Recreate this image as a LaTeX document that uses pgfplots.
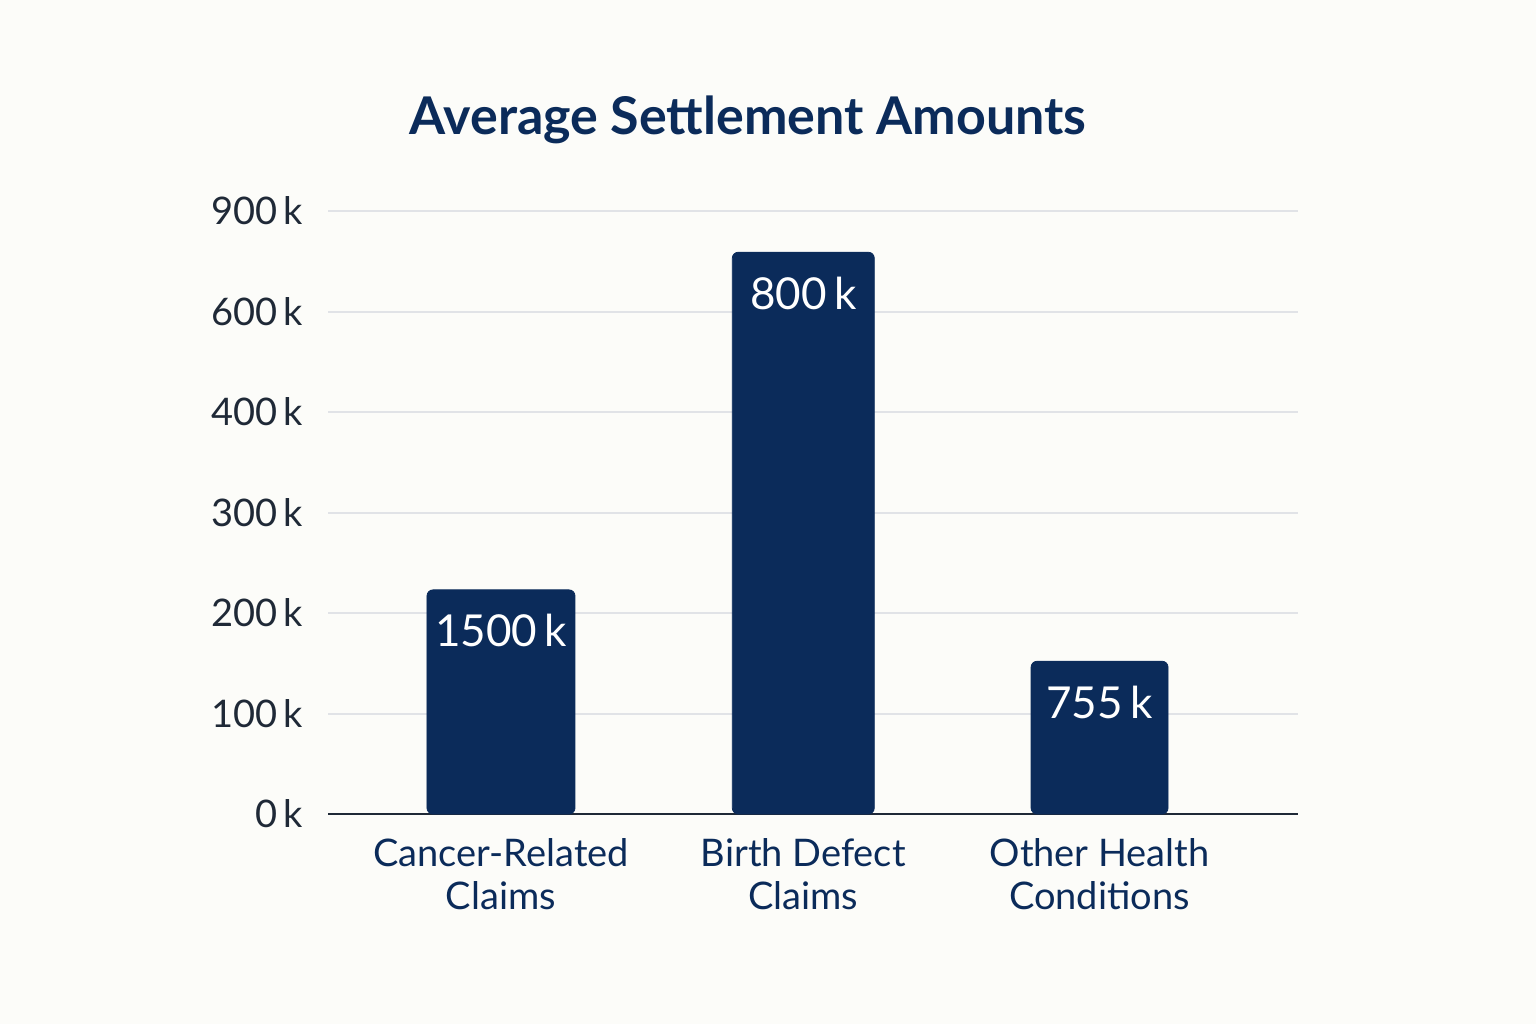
\documentclass[border=0pt]{standalone}
\usepackage{pgfplots}
\pgfplotsset{compat=1.18}
\usepackage{fontspec}
\setmainfont{Lato}
\definecolor{bg}{HTML}{FCFCF9}
\definecolor{navy}{HTML}{0B2B5A}
\definecolor{tickc}{HTML}{1F2937}
\definecolor{gridc}{HTML}{E1E3E7}
\begin{document}
\begin{tikzpicture}[x=1pt,y=1pt]
\fill[bg] (0,0) rectangle (768,512);
\useasboundingbox (0,0) rectangle (768,512);
\node[font=\fontsize{26}{30}\selectfont\bfseries, text=navy] at (374,452) {Average Settlement Amounts};
\begin{axis}[
  at={(164pt,105pt)}, anchor=south west,
  scale only axis, width=485pt, height=301.5pt,
  xmin=-0.578, xmax=2.663, ymin=0, ymax=6,
  axis x line*=bottom, axis y line*=left,
  x axis line style={tickc, line width=1pt, -},
  y axis line style={draw=none},
  ytick={0,1,2,3,4,5,6},
  yticklabels={0\,k,100\,k,200\,k,300\,k,400\,k,600\,k,900\,k},
  ymajorgrids, grid style={gridc, line width=1pt},
  major tick length=0pt,
  xtick={0,1.01,2},
  xticklabels={Cancer-Related\\Claims, Birth Defect\\Claims, Other Health\\Conditions},
  xticklabel style={align=center, font=\fontsize{19}{21.5}\selectfont, text=navy, yshift=-8.5pt},
  yticklabel style={font=\fontsize{19}{22}\selectfont, text=tickc, xshift=-9pt},
  /pgf/number format/assume math mode=true,
  ybar, bar shift=0pt,
  point meta=explicit symbolic,
  nodes near coords,
  every node near coord/.append style={anchor=center, yshift=-20.5pt, text=white, font=\fontsize{22}{24}\selectfont},
  clip=false,
]
\addplot[fill=navy, draw=navy, bar width=74pt, rounded corners=3pt] coordinates {(0,2.23)[1500\,k]};
\addplot[fill=navy, draw=navy, bar width=71pt, rounded corners=3pt] coordinates {(1.01,5.59)[800\,k]};
\addplot[fill=navy, draw=navy, bar width=68.5pt, rounded corners=3pt] coordinates {(2,1.52)[755\,k]};
\end{axis}
\end{tikzpicture}
\end{document}
